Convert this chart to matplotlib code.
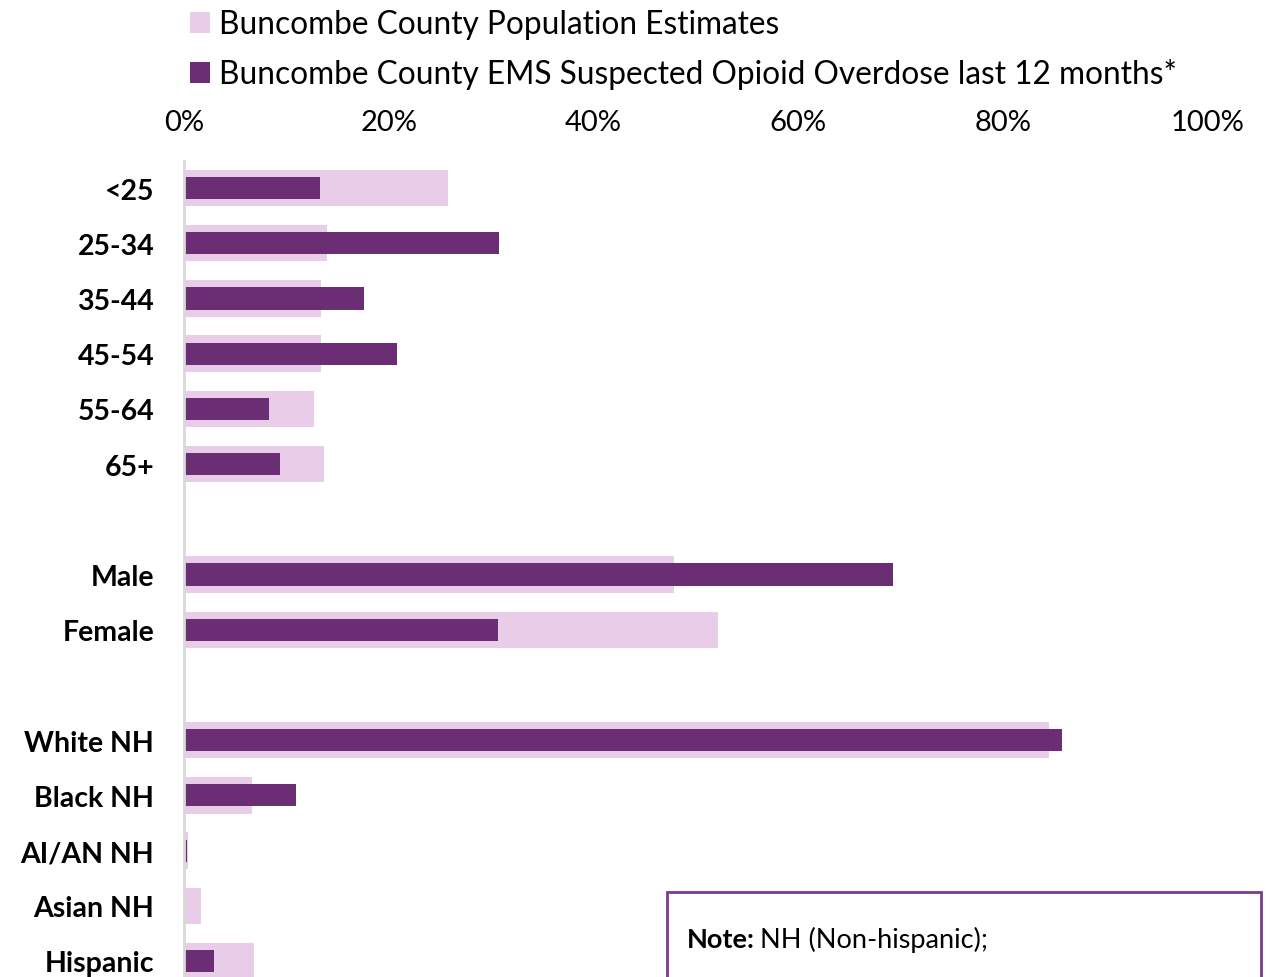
import matplotlib
matplotlib.use("Agg")
import matplotlib.pyplot as plt
from matplotlib.patches import Rectangle

categories = ["<25", "25-34", "35-44", "45-54", "55-64", "65+", "",
              "Male", "Female", "",
              "White NH", "Black NH", "AI/AN NH", "Asian NH", "Hispanic"]
population = [25.8, 14.0, 13.4, 13.4, 12.7, 13.7, None,
              47.9, 52.1, None,
              84.5, 6.6, 0.4, 1.7, 6.8]
ems = [13.3, 30.8, 17.6, 20.8, 8.3, 9.4, None,
       69.2, 30.7, None,
       85.7, 10.9, 0.3, 0.0, 2.9]
xticks = [0, 20, 40, 60, 80, 100]
xtick_labels = ["0%", "20%", "40%", "60%", "80%", "100%"]
pop_label = "Buncombe County Population Estimates"
ems_label = "Buncombe County EMS Suspected Opioid Overdose last 12 months*"

FONT = "Lato"
plt.rcParams["font.family"] = [FONT, "DejaVu Sans"]

W, H = 1275, 978
fig = plt.figure(figsize=(W / 100, H / 100), dpi=100)
ax = fig.add_axes([184 / W, 0, (1208 - 184) / W, (978 - 162) / H])

LIGHT = "#E8CCE8"
DARK = "#6B2D73"

pos = list(range(len(categories)))
pv = [v if v is not None else 0 for v in population]
ev = [v if v is not None else 0 for v in ems]
b1 = ax.barh(pos, pv, height=0.66, color=LIGHT, label=pop_label, zorder=2)
b2 = ax.barh(pos, ev, height=0.40, color=DARK, label=ems_label, zorder=3)

ax.set_xlim(0, 100)
ax.set_ylim(14.29, -0.49)
ax.xaxis.tick_top()
ax.set_xticks(xticks)
ax.set_xticklabels(xtick_labels, fontsize=21)
ax.set_yticks(pos)
ax.set_yticklabels(categories, fontsize=20.5, fontweight="bold")
ax.tick_params(axis="x", length=0, pad=19)
ax.tick_params(axis="y", length=0, pad=21.5)
for s in ["top", "right", "bottom"]:
    ax.spines[s].set_visible(False)
ax.spines["left"].set_color("#D9D9D9")
ax.spines["left"].set_linewidth(2)
ax.spines["left"].set_zorder(4)

leg = fig.legend(handles=[b1, b2], loc="upper left",
                 bbox_to_anchor=(190 / W, 1 - 10.5 / H), frameon=False,
                 fontsize=22.8, handlelength=0.63, handleheight=0.63,
                 handletextpad=0.28, labelspacing=0.60, borderaxespad=0,
                 borderpad=0)

# Note box
box = Rectangle((667 / W, -0.05), (1261 - 667) / W, (978 - 893) / H + 0.05,
                transform=fig.transFigure, facecolor="white",
                edgecolor="#7B3A8C", linewidth=2, zorder=10)
fig.patches.append(box)
t1 = fig.text(687 / W, 1 - 940 / H, "Note:", fontsize=19.5, fontweight="bold",
              va="center", ha="left", zorder=11)
fig.canvas.draw()
bb = t1.get_window_extent()
fig.text(bb.x1 / W + 5 / W, 1 - 940 / H, "NH (Non-hispanic);", fontsize=19.5,
         va="center", ha="left", zorder=11)

fig.savefig("out.png", dpi=100)
